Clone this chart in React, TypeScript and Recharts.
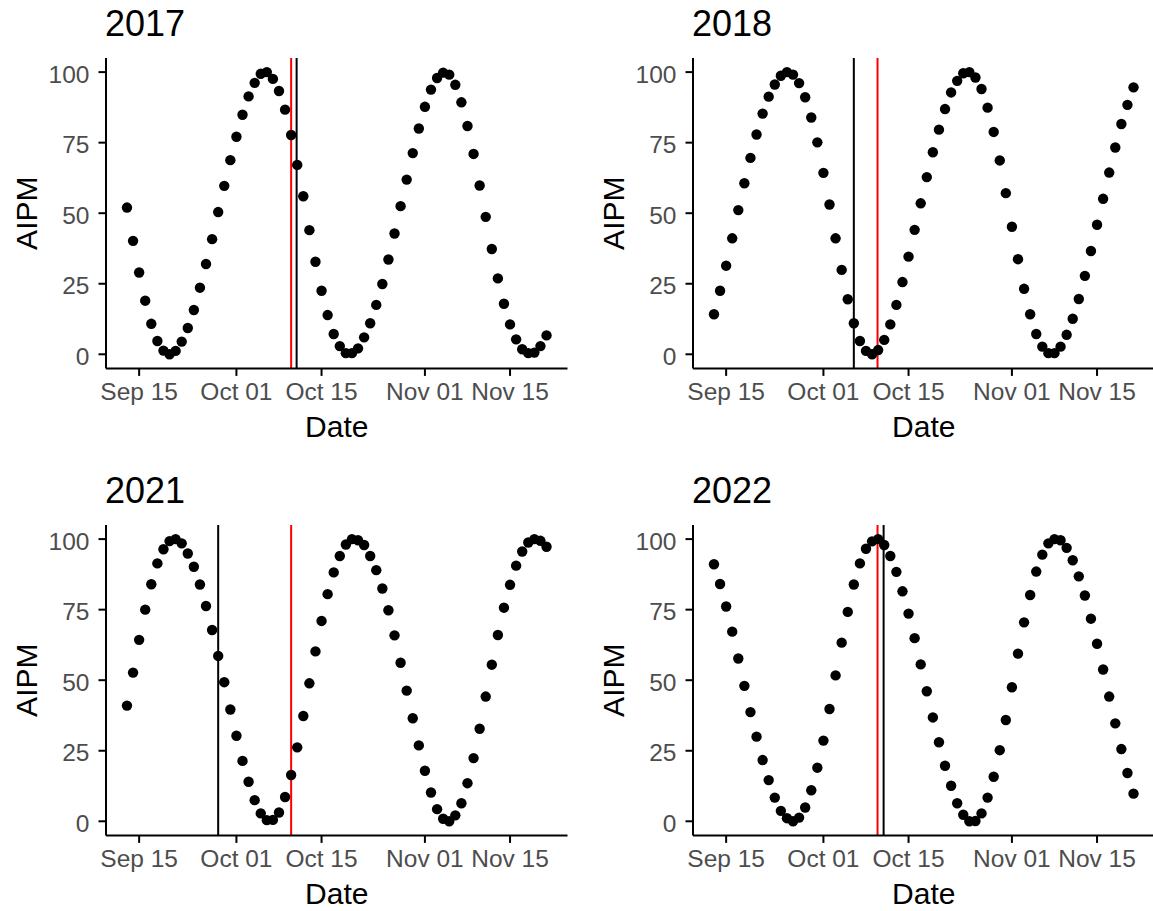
import { ReferenceLine, Scatter, ScatterChart, XAxis, YAxis } from "recharts";

// day number: Sep n = n, Oct n = 30 + n, Nov n = 61 + n
const FIRST_DAY = 13; // Sep 13

const YEARS = ["2017", "2018", "2021", "2022"];

const AIPM_2017 = [
  52.0, 40.2, 29.0, 19.0, 10.8, 4.7, 1.3, 0, 1.2, 4.5, 9.3, 15.7, 23.6, 32.0, 40.8, 50.4, 59.7, 68.8,
  77.1, 84.9, 91.4, 96.2, 99.4, 100, 97.6, 93.3, 86.7, 77.7, 67.1,
  56.0, 44.0, 32.8, 22.5, 13.9, 7.2, 2.9, 0.4, 0.4, 2.1, 6.0, 11.0, 17.5, 24.9, 33.6, 42.8, 52.5, 61.9, 71.3, 80.0,
  87.7, 93.8, 97.9, 99.8, 99.1, 95.5, 89.3, 80.9, 71.0, 59.8, 48.7, 37.3, 26.9, 17.9, 10.6, 5.3, 1.8, 0.4, 0.6, 2.9, 6.7,
];

const AIPM_2018 = [
  14.2, 22.5, 31.4, 41.1, 51.1, 60.6, 69.6, 77.9, 85.3, 91.3, 95.6, 98.7, 100, 99.1, 96.1, 91.1, 83.9, 75.1,
  64.3, 53.1, 41.1, 29.9, 19.5, 11.0, 4.7, 1.2, 0, 1.5, 5.1,
  10.6, 17.5, 25.6, 34.6, 44.1, 53.5, 62.8, 71.6, 79.6, 86.9, 92.8, 96.9, 99.6, 100, 98.1, 94.0, 87.4, 78.8, 68.7, 57.1,
  45.2, 33.7, 23.2, 14.2, 7.2, 2.7, 0.4, 0.4, 2.7, 6.9, 12.6, 19.6, 27.8, 36.6, 45.9, 55.1, 64.4, 73.3, 81.6, 88.4, 94.6,
];

const AIPM_2021 = [
  41.0, 52.7, 64.3, 75.0, 84.0, 91.4, 96.4, 99.3, 100, 98.5, 94.9, 90.2, 83.9, 76.3, 67.8, 58.6, 49.3, 39.6,
  30.3, 21.4, 14.0, 7.5, 2.8, 0.4, 0.5, 3.1, 8.6, 16.4, 26.2,
  37.3, 48.9, 60.2, 71.0, 80.5, 88.2, 94.0, 98.1, 100, 99.6, 97.9, 94.0, 89.0, 82.5, 74.8, 65.9, 56.2, 46.3, 36.5, 26.9,
  17.9, 10.2, 4.3, 0.9, 0, 2.1, 6.4, 13.5, 22.4, 32.8, 44.2, 55.5, 66.0, 75.7, 83.8, 90.6, 95.6, 98.8, 100, 99.4, 97.3,
];

const AIPM_2022 = [
  91.1, 84.1, 76.1, 67.2, 57.7, 48.0, 38.7, 30.0, 21.7, 14.6, 8.4, 3.7, 1.1, 0, 1.3, 4.9, 11.0, 19.0,
  28.6, 39.8, 51.7, 63.3, 74.2, 83.9, 91.4, 96.6, 99.2, 100, 97.9,
  94.0, 88.4, 81.5, 73.6, 64.9, 55.6, 46.1, 36.8, 28.0, 19.7, 12.6, 6.4, 2.3, 0, 0.1, 2.8, 8.4, 15.8, 25.2, 35.9,
  47.5, 59.4, 70.5, 80.2, 88.5, 94.5, 98.5, 100, 99.6, 96.9, 92.5, 86.8, 80.0, 71.8, 62.9, 53.8, 44.2, 34.7, 25.6, 17.1, 9.8,
];

// vertical markers (day numbers)
const RED_DAY = [40, 39.9, 40, 39.9];
const BLACK_DAY = [40.9, 36, 28, 40.9];

const TICK_DAYS = [15, 31, 45, 62, 76];
const TICK_LABELS = ["Sep 15", "Oct 01", "Oct 15", "Nov 01", "Nov 15"];
const Y_TICKS = [0, 25, 50, 75, 100];

const SERIES = [AIPM_2017, AIPM_2018, AIPM_2021, AIPM_2022];

const FONT = "'Liberation Sans', Arial, Helvetica, sans-serif";
const CHART_W = 580;
const CHART_H = 420;
const COL_X = [0, 587];
const ROW_Y = [0, 467];

const Dot = (p: any) => <circle cx={p.cx} cy={p.cy} r={5.2} fill="#000" />;

function Panel({ idx }: { idx: number }) {
  const data = SERIES[idx].map((v, i) => ({ day: FIRST_DAY + i, aipm: v }));
  const col = idx % 2;
  const row = Math.floor(idx / 2);
  return (
    <div style={{ position: "absolute", left: COL_X[col], top: ROW_Y[row] }}>
      <ScatterChart
        width={CHART_W}
        height={CHART_H}
        margin={{ top: 58, right: 12.5, bottom: 11.6, left: 0 }}
      >
        <XAxis
          type="number"
          dataKey="day"
          domain={[9.55, 85.45]}
          allowDataOverflow
          ticks={TICK_DAYS}
          interval={0}
          tickFormatter={(d: number) => TICK_LABELS[TICK_DAYS.indexOf(d)]}
          height={40}
          tickSize={7.5}
          tickMargin={7}
          axisLine={{ stroke: "#000", strokeWidth: 2 }}
          tickLine={{ stroke: "#000", strokeWidth: 2 }}
          tick={{ fill: "#4D4D4D", fontSize: 24.5, fontFamily: FONT }}
        />
        <YAxis
          type="number"
          dataKey="aipm"
          domain={[-5, 105]}
          allowDataOverflow
          ticks={Y_TICKS}
          interval={0}
          width={106}
          tickSize={7.5}
          tickMargin={9}
          axisLine={{ stroke: "#000", strokeWidth: 2 }}
          tickLine={{ stroke: "#000", strokeWidth: 2 }}
          tick={{ fill: "#4D4D4D", fontSize: 24.5, fontFamily: FONT, dy: 2 }}
        />
        <Scatter data={data} shape={Dot} isAnimationActive={false} />
        <ReferenceLine x={BLACK_DAY[idx]} stroke="#000" strokeWidth={2} />
        <ReferenceLine x={RED_DAY[idx]} stroke="#FF0000" strokeWidth={2} />
      </ScatterChart>
    </div>
  );
}

export default function App() {
  return (
    <div
      style={{
        position: "absolute",
        left: 0,
        top: 0,
        width: 1153,
        height: 911,
        overflow: "hidden",
        background: "#fff",
        fontFamily: FONT,
      }}
    >
      {YEARS.map((_, i) => (
        <Panel key={i} idx={i} />
      ))}
      <svg
        width={1153}
        height={911}
        style={{ position: "absolute", left: 0, top: 0, pointerEvents: "none" }}
        fontFamily={FONT}
      >
        {YEARS.map((y, i) => {
          const col = i % 2;
          const row = Math.floor(i / 2);
          const ox = COL_X[col];
          const oy = ROW_Y[row];
          const cy = oy + 213.2;
          return (
            <g key={y}>
              <text x={ox + 105} y={oy + 36} fontSize={36} fill="#000">
                {y}
              </text>
              <text x={ox + 336.75} y={oy + 436.5} fontSize={30} fill="#000" textAnchor="middle">
                Date
              </text>
              <text
                x={ox + 36.7}
                y={cy}
                fontSize={30}
                fill="#000"
                textAnchor="middle"
                transform={`rotate(-90 ${ox + 36.7} ${cy})`}
              >
                AIPM
              </text>
            </g>
          );
        })}
      </svg>
    </div>
  );
}
